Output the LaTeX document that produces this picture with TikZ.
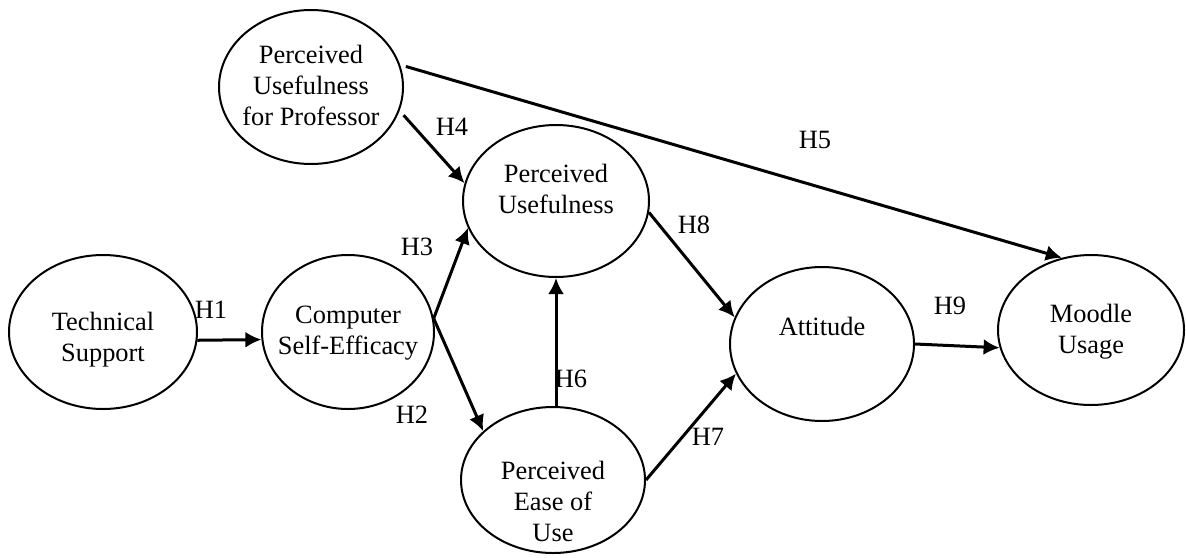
\documentclass[tikz,border=0pt]{standalone}
\usepackage{fontspec}
\setmainfont{Liberation Serif}
\usetikzlibrary{shapes.geometric,arrows.meta}

\newcommand{\ovaltext}[2][0pt]{\raisebox{#1}[0pt][0pt]{\makebox[0pt]{\begin{tabular}{@{}c@{}}#2\end{tabular}}}}

\begin{document}
\begin{tikzpicture}[x=0.5pt, y=-0.5pt,
  every node/.style={font=\fontsize{13.2}{15.5}\selectfont},
  construct/.style={ellipse, draw, line width=1pt, inner sep=0pt},
  hyp/.style={-{Latex[length=8pt,width=8pt]}, line width=1.5pt},
  tag/.style={inner sep=0pt}]
\useasboundingbox (0,0) rectangle (1186,557);
% constructs
\node [construct, minimum width=94pt, minimum height=77pt] (tech) at (103, 332) {\ovaltext[-7pt]{Technical\\Support}};
\node [construct, minimum width=86pt, minimum height=77pt] (cse) at (348, 332) {\ovaltext[-3.5pt]{Computer\\Self-Efficacy}};
\node [construct, minimum width=92pt, minimum height=77pt] (pup) at (311, 87) {\ovaltext[-3.5pt]{Perceived\\Usefulness\\for Professor}};
\node [construct, minimum width=93pt, minimum height=76pt] (pu) at (556, 201) {\ovaltext[1.5pt]{Perceived\\Usefulness}};
\node [construct, minimum width=92pt, minimum height=73pt] (peou) at (553, 480) {\ovaltext[-15pt]{Perceived\\Ease of\\Use}};
\node [construct, minimum width=92pt, minimum height=77pt] (att) at (822, 344) {\ovaltext[4.5pt]{Attitude}};
\node [construct, minimum width=93pt, minimum height=75pt] (moodle) at (1091, 330) {\ovaltext[-4pt]{Moodle\\Usage}};
% hypotheses
\draw [hyp] (tech.-5) -- (cse.185);
\draw [hyp] (cse.9) -- (peou.145);
\draw [hyp] (cse.9) -- (pu.197);
\draw [hyp, shorten <=3pt] (pup.-15.5) -- (pu.169);
\draw [hyp, shorten <=3pt] (pup.14.4) -- (moodle.112);
\draw [hyp] (pu.south |- peou.north) -- (pu.south);
\draw [hyp] (peou.0) -- (att.199.6);
\draw [hyp] (pu.-7) -- (att.163);
\draw [hyp] (att.east) -- (moodle.191);
\node [tag] (h1) at (211, 310) {H1};
\node [tag] (h2) at (412, 415) {H2};
\node [tag] (h3) at (417, 247) {H3};
\node [tag] (h4) at (452, 127) {H4};
\node [tag] (h5) at (815, 140) {H5};
\node [tag] (h6) at (571, 379) {H6};
\node [tag] (h7) at (708, 437) {H7};
\node [tag] (h8) at (694, 225) {H8};
\node [tag] (h9) at (950, 306) {H9};
\end{tikzpicture}
\end{document}
